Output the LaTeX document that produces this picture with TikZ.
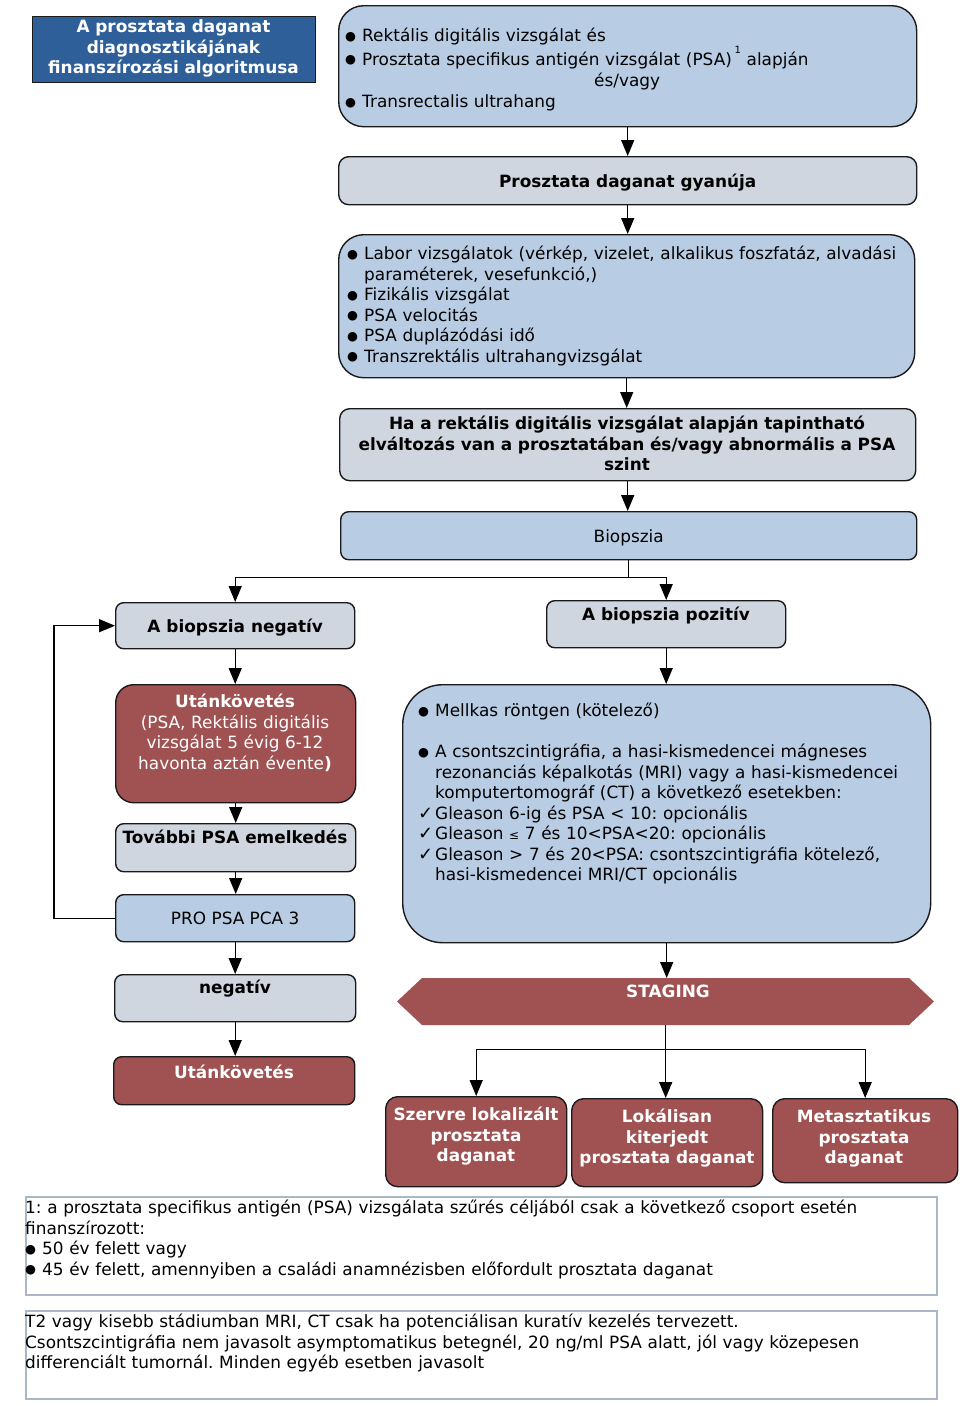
\documentclass[tikz,border=0pt]{standalone}
\usepackage{fontspec}
\setmainfont{DejaVu Sans}
\usetikzlibrary{arrows.meta}
\definecolor{lblue}{HTML}{B8CCE4}
\definecolor{lgray}{HTML}{CFD6DF}
\definecolor{dred}{HTML}{A05252}
\definecolor{tblue}{HTML}{2E5F98}
\definecolor{edgec}{HTML}{1A1A1A}
\definecolor{fnline}{HTML}{A9B7C6}
\newcommand\fsz{\fontsize{16.9}{20.5}\selectfont}
\newcommand\fszb{\fontsize{16.9}{21.3}\selectfont}
\newcommand\bul{\makebox[17pt][l]{\raisebox{1.5pt}{\fontsize{12.5}{12.5}\selectfont ●}}}
\newcommand\chk{\makebox[17pt][l]{\fontsize{18}{18}\selectfont ✓}}
\newcommand\ind{\hspace*{17pt}}
\begin{document}
\frenchspacing
\begin{tikzpicture}[x=1pt,y=-1pt,
  box/.style={draw=edgec, line width=1.4pt, anchor=north west, inner sep=0pt, font=\fsz, text height=15pt, text depth=1.5pt},
  lb/.style={box, fill=lblue},
  gr/.style={box, fill=lgray},
  rd/.style={box, fill=dred, text=white},
  txt/.style={inner sep=0pt, font=\fsz},
  btxt/.style={inner sep=0pt, font=\fsz\bfseries},
  arr/.style={draw=black, line width=1.4pt, -{Triangle[length=16pt,width=13pt]}},
  fnbox/.style={draw=fnline, line width=1.6pt, anchor=north west, inner sep=0pt}
]
\useasboundingbox (0,0) rectangle (960,1406);

% title
\node[box, fill=tblue, minimum width=283, minimum height=66] (title) at (32,16) {};
\node[btxt, text=white, text width=283, align=center, anchor=base] (titlet) at (173.5,32.5)
  {A prosztata daganat\\diagnosztikájának\\finanszírozási algoritmusa};

% top box
\node[lb, rounded corners=25, minimum width=578, minimum height=121] (b1) at (338,5) {};
\node[txt, font=\fszb, text width=600, align=left, anchor=base west] (b1t) at (345,41.5)
  {\bul Rektális digitális vizsgálat és\\
   \bul Prosztata specifikus antigén vizsgálat (PSA)\,\raisebox{12pt}{\fontsize{10}{10}\selectfont 1}\ alapján\\
   \makebox[564pt]{és/vagy}\\
   \bul Transrectalis ultrahang};

\node[gr, rounded corners=10, minimum width=578, minimum height=48, font=\fsz\bfseries] (b2) at (338,156) {Prosztata daganat gyanúja};

\node[lb, rounded corners=25, minimum width=576, minimum height=143] (b3) at (338,234) {};
\node[txt, text width=620, align=left, anchor=base west] (b3t) at (347,259.5)
  {\bul Labor vizsgálatok (vérkép, vizelet, alkalikus foszfatáz, alvadási\\
   \ind paraméterek, vesefunkció,)\\
   \bul Fizikális vizsgálat\\
   \bul PSA velocitás\\
   \bul PSA duplázódási idő\\
   \bul Transzrektális ultrahangvizsgálat};

\node[gr, rounded corners=10, minimum width=576, minimum height=72] (b4) at (339,408) {};
\node[btxt, text width=600, align=center, anchor=base] (b4t) at (627,429.5)
  {Ha a rektális digitális vizsgálat alapján tapintható\\
   elváltozás van a prosztatában és/vagy abnormális a PSA\\
   szint};

\node[lb, rounded corners=8, minimum width=576, minimum height=48] (bio) at (340,511) {Biopszia};

% left column
\node[gr, rounded corners=8, minimum width=239, minimum height=46, font=\fsz\bfseries] (neg) at (115,602) {A biopszia negatív};
\node[rd, rounded corners=18, minimum width=240, minimum height=118] (ut1) at (115,684) {};
\node[txt, text=white, text width=240, align=center, anchor=base] (ut1t) at (235,707.5)
  {\textbf{Utánkövetés}\\(PSA, Rektális digitális\\vizsgálat 5 évig 6-12\\havonta aztán évente\textbf{)}};
\node[gr, rounded corners=8, minimum width=240, minimum height=48] (tov) at (115,823) {};
\node[btxt, anchor=base] (tovt) at (235,843.5) {További PSA emelkedés};
\node[lb, rounded corners=8, minimum width=239, minimum height=47] (pro) at (115,894) {PRO PSA PCA 3};
\node[gr, rounded corners=8, minimum width=241, minimum height=47] (negv) at (114,974) {};
\node[btxt, anchor=base] (negvt) at (235,993.5) {negatív};
\node[rd, rounded corners=8, minimum width=241, minimum height=48] (ut2) at (113,1056) {};
\node[btxt, text=white, anchor=base] (ut2t) at (234,1078.5) {Utánkövetés};

% right column
\node[gr, rounded corners=8, minimum width=239, minimum height=47] (pos) at (546,600) {};
\node[btxt, anchor=base] (post) at (666,620.5) {A biopszia pozitív};

\node[lb, rounded corners=40, minimum width=528, minimum height=258] (big) at (402,684) {};
\node[txt, text width=600, align=left, anchor=base west] (bigt) at (418,716.5)
  {\bul Mellkas röntgen (kötelező)\\[20.5pt]
   \bul A csontszcintigráfia, a hasi-kismedencei mágneses\\
   \ind rezonanciás képalkotás (MRI) vagy a hasi-kismedencei\\
   \ind komputertomográf (CT) a következő esetekben:\\
   \chk Gleason 6-ig és PSA < 10: opcionális\\
   \chk Gleason {\fontsize{12}{12}\selectfont ≤} 7 és 10<PSA<20: opcionális\\
   \chk Gleason > 7 és 20<PSA: csontszcintigráfia kötelező,\\
   \ind hasi-kismedencei MRI/CT opcionális};

% staging
\node[inner sep=0pt, minimum width=537, minimum height=47, anchor=north west] (stg) at (397,978) {};
\fill[dred] (397,1001.5) -- (422,978) -- (909,978) -- (934,1001.5) -- (909,1025) -- (422,1025) -- cycle;
\node[btxt, text=white, anchor=base] (stgt) at (668,997.5) {STAGING};

\node[rd, rounded corners=12, minimum width=181, minimum height=90] (s1) at (385,1096) {};
\node[btxt, text=white, text width=190, align=center, anchor=base] (s1t) at (476,1120.5) {Szervre lokalizált\\prosztata\\daganat};
\node[rd, rounded corners=12, minimum width=191, minimum height=88] (s2) at (571,1098) {};
\node[btxt, text=white, text width=190, align=center, anchor=base] (s2t) at (667,1122.5) {Lokálisan\\kiterjedt\\prosztata daganat};
\node[rd, rounded corners=12, minimum width=185, minimum height=84] (s3) at (772,1098) {};
\node[btxt, text=white, text width=190, align=center, anchor=base] (s3t) at (864,1122.5) {Metasztatikus\\prosztata\\daganat};

% footnotes
\node[fnbox, minimum width=911, minimum height=98] (fn1) at (25,1196) {};
\node[txt, text width=930, align=left, anchor=base west] (fn1t) at (25,1213.5)
  {1: a prosztata specifikus antigén (PSA) vizsgálata szűrés céljából csak a következő csoport esetén\\
   finanszírozott:\\
   \bul 50 év felett vagy\\
   \bul 45 év felett, amennyiben a családi anamnézisben előfordult prosztata daganat};
\node[fnbox, minimum width=911, minimum height=88] (fn2) at (25,1310) {};
\node[txt, text width=930, align=left, anchor=base west] (fn2t) at (25,1327.5)
  {T2 vagy kisebb stádiumban MRI, CT csak ha potenciálisan kuratív kezelés tervezett.\\
   Csontszcintigráfia nem javasolt asymptomatikus betegnél, 20 ng/ml PSA alatt, jól vagy közepesen\\
   differenciált tumornál. Minden egyéb esetben javasolt};

% connectors
\draw[arr] (b1.south) -- (b1.south |- b2.north);
\draw[arr] (b2.south) -- (b2.south |- b3.north);
\draw[arr] (b3.south) -- (b3.south |- b4.north);
\draw[arr] (b4.south) -- (b4.south |- bio.north);
\draw[arr] (bio.south) -- ++(0,17) -| (neg.north);
\draw[arr] (bio.south) -- ++(0,17) -| (pos.north);
\draw[arr] (neg.south) -- (neg.south |- ut1.north);
\draw[arr] (ut1.south) -- (ut1.south |- tov.north);
\draw[arr] (tov.south) -- (tov.south |- pro.north);
\draw[arr] (pro.south) -- (pro.south |- negv.north);
\draw[arr] (negv.south) -- (negv.south |- ut2.north);
\draw[arr] (pro.west) -- ++(-61,0) |- (neg.west);
\draw[arr] (pos.south) -- (pos.south |- big.north);
\draw[arr] (big.south) -- (big.south |- stg.north);
\draw[arr] (stg.south) -- ++(0,24) -| (s1.north);
\draw[arr] (stg.south) -- (stg.south |- s2.north);
\draw[arr] (stg.south) -- ++(0,24) -| (s3.north);
\end{tikzpicture}
\end{document}
